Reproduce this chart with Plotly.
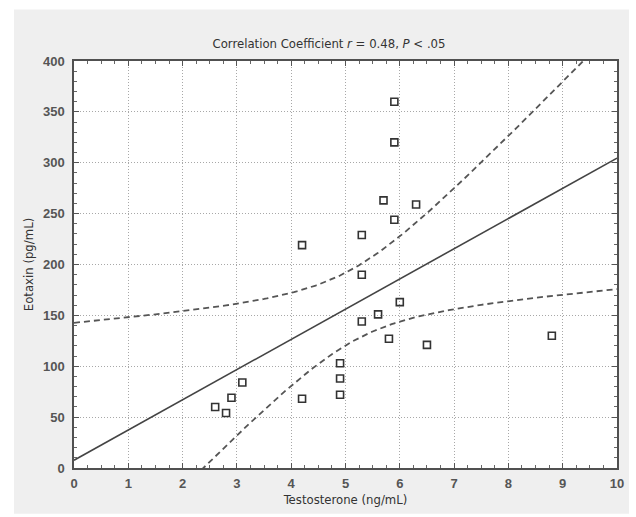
import numpy as np
import plotly.graph_objects as go

# Data
testosterone = [5.9, 5.9, 5.7, 6.3, 5.9, 5.3, 4.2, 5.3, 6.0, 5.6, 5.3,
                5.8, 6.5, 4.9, 4.9, 4.9, 3.1, 2.9, 2.6, 2.8, 4.2, 8.8]
eotaxin = [360, 320, 263, 259, 244, 229, 219, 190, 163, 151, 144,
           127, 121, 103, 88, 72, 84, 69, 60, 54, 68, 130]
x_ticks = [0, 1, 2, 3, 4, 5, 6, 7, 8, 9, 10]
y_ticks = [0, 50, 100, 150, 200, 250, 300, 350, 400]
t_crit = 2.086  # t(0.975, df=20) for the 95% confidence band

x = np.array(testosterone, dtype=float)
y = np.array(eotaxin, dtype=float)
n = len(x)
xm, ym = x.mean(), y.mean()
sxx = ((x - xm) ** 2).sum()
sxy = ((x - xm) * (y - ym)).sum()
slope = sxy / sxx
intercept = ym - slope * xm
resid = y - (intercept + slope * x)
s = np.sqrt((resid ** 2).sum() / (n - 2))

xf = np.linspace(0, 10, 201)
yf = intercept + slope * xf
hw = t_crit * s * np.sqrt(1.0 / n + (xf - xm) ** 2 / sxx)

W, H = 636, 517
L, R, T, B = 74, 19, 61, 46
pw, ph = W - L - R, H - T - B


def px_x(p):
    return (p - L) / pw


def px_y(p):
    return (H - B - p) / ph


fig = go.Figure()
fig.add_trace(go.Scatter(x=xf, y=yf, mode="lines",
                         line=dict(color="#444444", width=1.6),
                         hoverinfo="skip", showlegend=False))
fig.add_trace(go.Scatter(x=xf, y=yf + hw, mode="lines",
                         line=dict(color="#555555", width=1.8, dash="6px,4px"),
                         hoverinfo="skip", showlegend=False))
fig.add_trace(go.Scatter(x=xf, y=yf - hw, mode="lines",
                         line=dict(color="#555555", width=1.8, dash="6px,4px"),
                         hoverinfo="skip", showlegend=False))
fig.add_trace(go.Scatter(x=testosterone, y=eotaxin, mode="markers",
                         marker=dict(symbol="square-open", size=7,
                                     color="#333333",
                                     line=dict(width=1.6, color="#333333")),
                         showlegend=False))

label_font = dict(family="Liberation Sans Narrow, DejaVu Sans Condensed, Arial Narrow, sans-serif",
                  size=13, color="#333333")
tick_font = dict(family="Liberation Sans, Arial, sans-serif", size=13,
                 color="#555555", weight="bold")

axis_common = dict(
    showline=True, mirror="allticks", linecolor="#505050", linewidth=1.5,
    ticks="inside", ticklen=5, tickcolor="#555555", tickwidth=1,
    showgrid=True, gridcolor="#a8a8a8", gridwidth=1, griddash="1px,2px",
    zeroline=False, tickfont=tick_font,
)

fig.update_xaxes(range=[0, 10], tickmode="array", tickvals=x_ticks,
                 ticktext=[str(v) for v in x_ticks], ticklabelstandoff=3,
                 minor=dict(dtick=0.25, ticks="inside", ticklen=3,
                            tickcolor="#666666", showgrid=False),
                 title=dict(text="Testosterone (ng/mL)", font=label_font, standoff=5),
                 **axis_common)
fig.update_yaxes(range=[0, 400], tickmode="array", tickvals=y_ticks,
                 ticktext=[str(v) for v in y_ticks], ticklabelstandoff=5,
                 minor=dict(dtick=10, ticks="inside", ticklen=3,
                            tickcolor="#666666", showgrid=False),
                 title=dict(text="Eotaxin (pg/mL)", font=label_font, standoff=6),
                 **axis_common)

fig.update_layout(
    width=W, height=H,
    margin=dict(l=L, r=R, t=T, b=B),
    paper_bgcolor="white",
    plot_bgcolor="white",
    title=dict(text="Correlation Coefficient <i>r</i> = 0.48, <i>P</i> &lt; .05",
               font=label_font, x=329 / W, xref="container", xanchor="center",
               y=1 - 43 / H, yref="container", yanchor="middle"),
    shapes=[
        dict(type="rect", xref="paper", yref="paper",
             x0=px_x(14), x1=px_x(629), y0=px_y(517), y1=px_y(9),
             fillcolor="#efefef", line=dict(width=0), layer="below"),
        dict(type="rect", xref="paper", yref="paper",
             x0=0, x1=1, y0=0, y1=1,
             fillcolor="white", line=dict(width=0), layer="below"),
    ],
)

fig.write_html("out.html", config={"displayModeBar": False},
               post_script="document.body.style.margin='0';document.body.style.overflow='hidden';")
